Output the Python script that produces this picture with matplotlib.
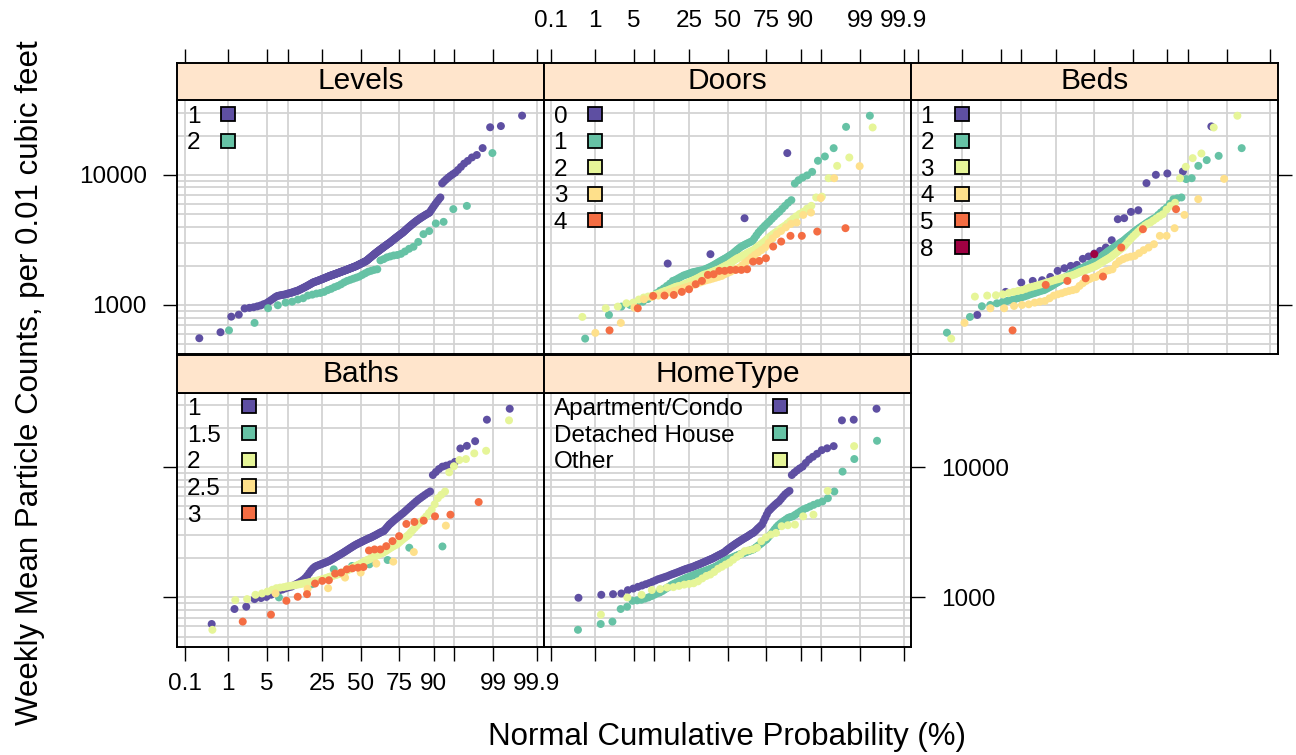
import numpy as np
import matplotlib
matplotlib.use('Agg')
import matplotlib.pyplot as plt
from matplotlib.ticker import LogLocator, NullFormatter
from matplotlib.patches import Rectangle
from statistics import NormalDist

plt.rcParams['font.family'] = ['Liberation Sans', 'DejaVu Sans']

# ---------------- data (sorted weekly mean particle counts per group) ----------------
levels_labels = ['1', '2']
levels_1 = [555, 617, 813, 842, 940, 950, 960, 975, 990, 1012, 1030, 1060, 1090, 1120, 1150, 1173, 1180, 1190,
            1195, 1200, 1210, 1220, 1228, 1236, 1245, 1255, 1265, 1275, 1281,
            1294, 1307, 1320, 1333, 1346, 1360, 1373, 1387, 1400, 1415, 1428, 1443, 1457, 1472, 1487,
            1496, 1505, 1514, 1522, 1531, 1540, 1549, 1558, 1568, 1577, 1586, 1596, 1605, 1614, 1624, 1634,
            1643, 1653, 1662, 1671,
            1679, 1687, 1695, 1703, 1711, 1719, 1727, 1735, 1743, 1751, 1760, 1768, 1776, 1785, 1793, 1801,
            1810, 1818, 1826,
            1834, 1843, 1851, 1860, 1868, 1877, 1886, 1895, 1903, 1912, 1921, 1930, 1939, 1948, 1957, 1966,
            1975, 1985, 1995,
            2007, 2019, 2031, 2043, 2055, 2067, 2079, 2092, 2104, 2117, 2129, 2142, 2155, 2167, 2180,
            2202, 2224, 2246, 2268, 2291, 2314, 2337, 2360, 2384, 2408, 2432, 2456, 2481, 2505, 2530,
            2554, 2578, 2602, 2626, 2651, 2676, 2701, 2726, 2752, 2778, 2804, 2830, 2857, 2884, 2911, 2938,
            2966, 2993, 3020,
            3054, 3088, 3122, 3157, 3192, 3228, 3264, 3300, 3337, 3374, 3412, 3450, 3488, 3527, 3566, 3606,
            3659, 3712, 3767, 3822, 3878, 3934, 3992, 4050, 4110, 4170, 4231, 4293, 4356, 4420,
            4480, 4541, 4603, 4666, 4730, 4794, 4860, 4926, 4993, 5061, 5130,
            5330, 5537, 5752, 5976, 6208, 6450, 6700,
            8600, 8900, 9200, 9500, 9800, 10100, 10400, 10900, 11500, 12200, 12800, 13600, 14200, 16050,
            23200, 23700, 28500]
levels_2 = [638, 728, 944, 995, 1043, 1060, 1100, 1126, 1181, 1200, 1223, 1236, 1260, 1300, 1330, 1370,
            1400, 1440, 1490, 1530, 1560, 1590, 1620, 1650, 1700, 1750, 1800, 1830, 1860, 1880, 2200, 2250,
            2320, 2360, 2400, 2420, 2470, 2575, 2700, 2800, 3050, 3500, 3700, 4230, 4350, 5450, 5770, 14700]

doors_labels = ['0', '1', '2', '3', '4']
doors_0 = [2080, 2455, 4640, 14690]
doors_1 = [551, 838, 971, 1000, 1020, 1060, 1110, 1170, 1230, 1290, 1340, 1400, 1460, 1530, 1560, 1600,
           1640, 1680, 1705, 1730, 1755, 1780, 1795, 1810, 1825, 1840, 1850, 1875, 1900, 1930, 1960, 1995,
           2030, 2070, 2110, 2150, 2190, 2230, 2270, 2310, 2360, 2410, 2455, 2520, 2590, 2660, 2730, 2800,
           2850, 2900, 2950, 3000, 3050, 3106, 3250, 3420, 3597, 3750, 3900, 4060, 4220, 4380, 4580, 4780,
           5000, 5200, 5480, 5778, 6100, 6389, 8570, 9100, 9530, 9900, 10540, 12820, 13840, 16030, 23370,
           28450]
doors_2 = [809, 943, 971, 1030, 1042, 1100, 1140, 1160, 1173, 1200, 1225, 1255, 1281, 1300, 1325, 1350,
           1375, 1392, 1400, 1420, 1440, 1460, 1485, 1510, 1530, 1555, 1580, 1605, 1630, 1660, 1690, 1710,
           1722, 1740, 1760, 1780, 1800, 1820, 1840, 1860, 1881, 1910, 1940, 1965, 1995, 2025, 2050, 2090,
           2130, 2170, 2210, 2250, 2290, 2313, 2350, 2385, 2420, 2460, 2500, 2540, 2580, 2603, 2660, 2730,
           2800, 2870, 2940, 3020, 3100, 3200, 3300, 3400, 3500, 3597, 3700, 3820, 3940, 4053, 4220, 4400,
           4600, 4800, 5000, 5200, 5500, 5778, 6700, 6800, 9420, 11720, 13590, 23120]
doors_3 = [610, 728, 953, 1106, 1150, 1180, 1210, 1250, 1281, 1310, 1340, 1370, 1400, 1430, 1460, 1490,
           1520, 1549, 1570, 1595, 1620, 1645, 1671, 1720, 1760, 1800, 1850, 1895, 1935, 2020, 2110, 2200,
           2312, 2420, 2530, 2640, 2762, 3000, 3250, 3500, 3700, 3950, 4200, 4296, 4920, 5130, 6620, 9420,
           11660]
doors_4 = [638, 943, 1173, 1180, 1194, 1260, 1320, 1443, 1530, 1702, 1722, 1828, 1828, 1859, 1859, 1859,
           1881, 2153, 2178, 2286, 2810, 3070, 3397, 3397, 3664, 3890]

beds_labels = ['1', '2', '3', '4', '5', '8']
beds_1 = [838, 1260, 1485, 1530, 1549, 1642, 1828, 1914, 1995, 2031, 2260, 2356, 2483, 2603, 2762, 3143,
          4560, 4644, 5190, 5346, 8630, 10000, 10240, 10610, 23560]
beds_2 = [612, 809, 977, 1000, 1030, 1050, 1073, 1090, 1110, 1130, 1145, 1165, 1185, 1208, 1225, 1240,
          1258, 1275, 1290, 1300, 1325, 1350, 1375, 1400, 1430, 1460, 1485, 1510, 1540, 1570, 1600, 1630,
          1660, 1690, 1722, 1745, 1770, 1795, 1820, 1840, 1865, 1890, 1910, 1935, 1960, 1985, 2010, 2035,
          2060, 2090, 2120, 2150, 2178, 2220, 2260, 2300, 2350, 2400, 2440, 2490, 2540, 2590, 2636, 2680,
          2730, 2780, 2830, 2880, 2940, 3000, 3050, 3106, 3180, 3260, 3340, 3420, 3500, 3597, 3690, 3780,
          3870, 3960, 4053, 4150, 4260, 4370, 4480, 4590, 4700, 4920, 5140, 5370, 5610, 6000, 6500, 6600,
          6700, 9270, 9420, 11720, 12970, 13990, 16030]
beds_3 = [551, 1159, 1180, 1187, 1208, 1235, 1260, 1281, 1300, 1330, 1359, 1380, 1400, 1420, 1440, 1459,
          1480, 1500, 1520, 1540, 1560, 1574, 1590, 1605, 1620, 1635, 1650, 1665, 1680, 1700, 1720, 1745,
          1770, 1795, 1815, 1835, 1855, 1875, 1895, 1920, 1945, 1970, 1995, 2030, 2070, 2110, 2150, 2190,
          2230, 2270, 2313, 2370, 2430, 2490, 2560, 2630, 2700, 2762, 2870, 2990, 3110, 3240, 3370, 3499,
          3640, 3780, 3930, 4080, 4200, 4296, 4450, 4620, 4800, 4980, 5400, 5778, 6100, 9420, 11530, 13430,
          14590, 23120, 28450]
beds_4 = [728, 943, 943, 982, 1000, 1012, 1042, 1060, 1073, 1125, 1180, 1208, 1230, 1260, 1281, 1300,
          1320, 1400, 1470, 1530, 1580, 1620, 1642, 1700, 1774, 1820, 1850, 1881, 2050, 2178, 2250, 2313,
          2350, 2383, 2500, 2636, 2762, 2930, 3397, 3397, 3890, 4920, 6500, 9310]
beds_5 = [638, 1426, 1530, 1603, 1653, 2762, 3819, 5445]
beds_8 = [2455]

baths_labels = ['1', '1.5', '2', '2.5', '3']
baths_1 = [625, 815, 849, 971, 990, 1010, 1050, 1100, 1130, 1150,
           1175, 1195, 1210, 1240, 1270, 1300, 1330, 1365, 1410, 1470,
           1540, 1610, 1670, 1715, 1745, 1765, 1785, 1805, 1825, 1845,
           1865, 1885, 1906, 1935, 1965, 1995, 2025, 2055, 2085, 2115,
           2145, 2175, 2207, 2240, 2275, 2310, 2345, 2380, 2415, 2450,
           2485, 2520, 2553, 2580, 2610, 2640, 2670, 2700, 2730, 2760,
           2790, 2820, 2850, 2873, 2905, 2940, 2975, 3010, 3050, 3090,
           3130, 3170, 3210, 3230, 3320, 3420, 3520, 3630, 3710, 3800,
           3890, 3980, 4070, 4160, 4260, 4360, 4456, 4580, 4710, 4850,
           4990, 5140, 5300, 5470, 5640, 5800, 5970, 6150, 6340, 6520,
           8730, 9200, 9700, 10120, 10300, 10540, 11000, 13960, 14620, 15880,
           23230, 28190]
baths_15 = [1000, 1264, 1645, 1745, 1796, 1940, 2410, 2466]
baths_2 = [564, 954, 971, 1048, 1073, 1110, 1145, 1178, 1190, 1200,
           1215, 1227, 1235, 1245, 1255, 1265, 1275, 1285, 1295, 1305,
           1315, 1325, 1335, 1341, 1350, 1360, 1372, 1385, 1398, 1410,
           1425, 1439, 1450, 1462, 1474, 1486, 1498, 1510, 1522, 1535,
           1547, 1565, 1585, 1605, 1625, 1645, 1665, 1685, 1705, 1725,
           1745, 1765, 1785, 1805, 1830, 1855, 1880, 1905, 1930, 1950,
           1963, 1990, 2015, 2040, 2065, 2090, 2115, 2140, 2165, 2190,
           2207, 2245, 2280, 2320, 2360, 2400, 2440, 2480, 2520, 2553,
           2610, 2680, 2750, 2820, 2890, 2960, 3043, 3170, 3300, 3430,
           3570, 3710, 3846, 4000, 4200, 4450, 4720, 5200, 5790, 6150,
           6520, 9160, 10200, 11380, 11580, 12800, 13400, 22960]
baths_25 = [1073, 1165, 1178, 1421, 1552, 1820, 1885, 2234, 3565]
baths_3 = [652, 738, 943, 1012, 1060, 1279, 1341, 1356, 1525, 1552, 1645, 1675, 1694, 1714, 2296, 2339,
           2339, 2478, 2709, 2959, 3673, 3804, 3893, 4201, 4325, 5410]

home_labels = ['Apartment/Condo', 'Detached House', 'Other']
home_apt = [994, 1048, 1060, 1073, 1138, 1170, 1206, 1235, 1264, 1290,
            1320, 1350, 1380, 1400, 1420, 1440, 1460, 1485, 1507, 1525,
            1545, 1565, 1585, 1605, 1625, 1645, 1660, 1675, 1690, 1705,
            1720, 1740, 1760, 1780, 1796, 1815, 1835, 1855, 1875, 1895,
            1915, 1935, 1955, 1975, 1995, 2020, 2045, 2070, 2095, 2120,
            2145, 2170, 2195, 2220, 2270, 2310, 2350, 2390, 2430, 2470,
            2510, 2550, 2590, 2630, 2670, 2709, 2750, 2790, 2830, 2870,
            2910, 2950, 3000, 3050, 3100, 3133, 3200, 3280, 3370, 3450,
            3540, 3630, 3850, 4080, 4330, 4590, 4730, 4880, 5030, 5180,
            5330, 5470, 5700, 5950, 6200, 6400, 6590, 8730, 9100, 9450,
            9800, 10120, 10800, 11500, 12050, 12700, 13550, 14000, 14550, 22960,
            23230, 28190]
home_det = [564, 625, 652, 815, 849, 943, 950, 960, 980, 1000,
            1025, 1050, 1075, 1092, 1120, 1150, 1180, 1210, 1240, 1264,
            1285, 1305, 1325, 1345, 1365, 1385, 1405, 1421, 1435, 1450,
            1465, 1480, 1495, 1510, 1525, 1540, 1552, 1565, 1578, 1591,
            1605, 1620, 1635, 1650, 1665, 1680, 1694, 1715, 1735, 1755,
            1780, 1805, 1830, 1855, 1880, 1905, 1927, 1945, 1965, 1985,
            2005, 2025, 2045, 2065, 2085, 2105, 2125, 2142, 2160, 2180,
            2200, 2220, 2240, 2260, 2280, 2300, 2320, 2339, 2380, 2420,
            2470, 2520, 2570, 2620, 2680, 2740, 2787, 2880, 2980, 3080,
            3200, 3330, 3460, 3580, 3680, 3780, 3880, 3980, 4090, 4150,
            4201, 4320, 4450, 4600, 4750, 4864, 5000, 5150, 5300, 5470,
            5790, 6520, 9270, 11580, 15990]
home_other = [738, 1000, 1048, 1140, 1160, 1192, 1200, 1227, 1255, 1270, 1285, 1330, 1400, 1463, 1500,
              1570, 1660, 1720, 1790, 1850, 1950, 2050, 2150, 2270, 2300, 2339, 2410, 2709, 2900, 3043,
              3133, 3526, 3589, 3630, 4201, 4325, 6590, 14550]

prob_ticks = [0.1, 1, 5, 10, 25, 50, 75, 90, 95, 99, 99.9]
prob_labels = ['0.1', '1', '5', '', '25', '50', '75', '90', '', '99', '99.9']
y_ticks = [1000, 10000]
y_tick_labels = ['1000', '10000']

panels = [
    ('Levels', levels_labels, [levels_1, levels_2]),
    ('Doors', doors_labels, [doors_0, doors_1, doors_2, doors_3, doors_4]),
    ('Beds', beds_labels, [beds_1, beds_2, beds_3, beds_4, beds_5, beds_8]),
    ('Baths', baths_labels, [baths_1, baths_15, baths_2, baths_25, baths_3]),
    ('HomeType', home_labels, [home_apt, home_det, home_other]),
]

# ---------------- styling ----------------
PAL = ['#5E4FA2', '#66C2A5', '#E6F598', '#FEE08B', '#F46D43', '#9E0142']
GRID = '#d3d3d3'
STRIP = '#FFE5CC'
W, H = 1296, 755
nd = NormalDist()


def ppoints(n):
    a = 3 / 8 if n <= 10 else 0.5
    return (np.arange(1, n + 1) - a) / (n + 1 - 2 * a)


def rect(x0, y0, w, h):
    return [x0 / W, 1 - (y0 + h) / H, w / W, h / H]


fig = plt.figure(figsize=(W / 100, H / 100), dpi=100)
renderer = fig.canvas.get_renderer()

col_left = [177.3, 544.1, 910.9]
pw = 366.8
strip_top = [62.5, 355.0]
strip_h = 37.5
panel_h = 254.0
xlim = (-3.218, 3.218)
ylim = (10 ** 2.623, 10 ** 4.575)
xt = [nd.inv_cdf(p / 100) for p in prob_ticks]
TICK = 17.5

for k, (title, labels, series) in enumerate(panels):
    r, c = divmod(k, 3)
    x0 = col_left[c]
    ys = strip_top[r]
    yp = ys + strip_h
    ax = fig.add_axes(rect(x0, yp, pw, panel_h))
    sx = fig.add_axes(rect(x0, ys, pw, strip_h))

    ax.set_yscale('log')
    ax.set_xlim(*xlim)
    ax.set_ylim(*ylim)
    ax.set_xticks(xt)
    ax.set_xticklabels(prob_labels)
    ax.set_yticks(y_ticks)
    ax.set_yticklabels(y_tick_labels)
    ax.yaxis.set_minor_locator(LogLocator(base=10, subs=np.arange(2, 10), numticks=30))
    ax.yaxis.set_minor_formatter(NullFormatter())
    ax.set_axisbelow(True)
    ax.grid(True, axis='x', which='major', color=GRID, lw=1.3)
    ax.grid(True, axis='y', which='both', color=GRID, lw=1.3)
    for s in ax.spines.values():
        s.set_linewidth(1.4)
    ax.tick_params(axis='x', which='major', direction='out', length=10, width=1,
                   bottom=(r == 1), top=False, labelbottom=(title == 'Baths'),
                   labeltop=False, labelsize=TICK, pad=9)
    is_right = (c == 2) or (title == 'HomeType')
    ax.tick_params(axis='y', which='major', direction='out', length=10, width=1,
                   left=(c == 0), right=is_right, labelleft=(title == 'Levels'),
                   labelright=(title == 'HomeType'), labelsize=TICK, pad=12)
    ax.tick_params(axis='y', which='minor', left=False, right=False)

    for i, vals in enumerate(series):
        v = np.sort(np.asarray(vals, dtype=float))
        z = [nd.inv_cdf(p) for p in ppoints(len(v))]
        ax.scatter(z, v, s=33, color=PAL[i], edgecolors='none', zorder=3)

    # strip
    sx.set_facecolor(STRIP)
    sx.set_xlim(*xlim)
    sx.set_ylim(0, 1)
    sx.set_yticks([])
    sx.set_xticks(xt)
    sx.set_xticklabels(prob_labels)
    sx.tick_params(axis='x', direction='out', length=10, width=1, bottom=False,
                   top=(r == 0), labelbottom=False, labeltop=(title == 'Doors'),
                   labelsize=TICK, pad=12)
    for s in sx.spines.values():
        s.set_linewidth(1.4)
    sx.text(0.5, 0.5, title, ha='center', va='center', transform=sx.transAxes, fontsize=21.5)

    # key (legend) inside the panel, top-left
    texts = []
    for i, lab in enumerate(labels):
        yc = yp + 14 + i * 26.6
        t = fig.text((x0 + 9.5) / W, 1 - (yc + 8.7) / H, lab, ha='left', va='baseline',
                     fontsize=TICK, zorder=5)
        texts.append((t, yc))
    maxw = max(t.get_window_extent(renderer).width for t, _ in texts)
    sq = 14
    for i, (t, yc) in enumerate(texts):
        cx = x0 + 9.5 + maxw * 1.05 + 27
        fig.add_artist(Rectangle(((cx - sq / 2) / W, 1 - (yc + sq / 2) / H), sq / W, sq / H,
                                 transform=fig.transFigure, facecolor=PAL[i],
                                 edgecolor='black', lw=1.3, zorder=5))

fig.text(727 / W, 1 - 737 / H, 'Normal Cumulative Probability (%)', ha='center', va='center',
         fontsize=22.5)
fig.text(30 / W, 1 - 383 / H, 'Weekly Mean Particle Counts, per 0.01 cubic feet', ha='center',
         va='center', rotation=90, fontsize=22.5)

fig.savefig('out.png', dpi=100)
